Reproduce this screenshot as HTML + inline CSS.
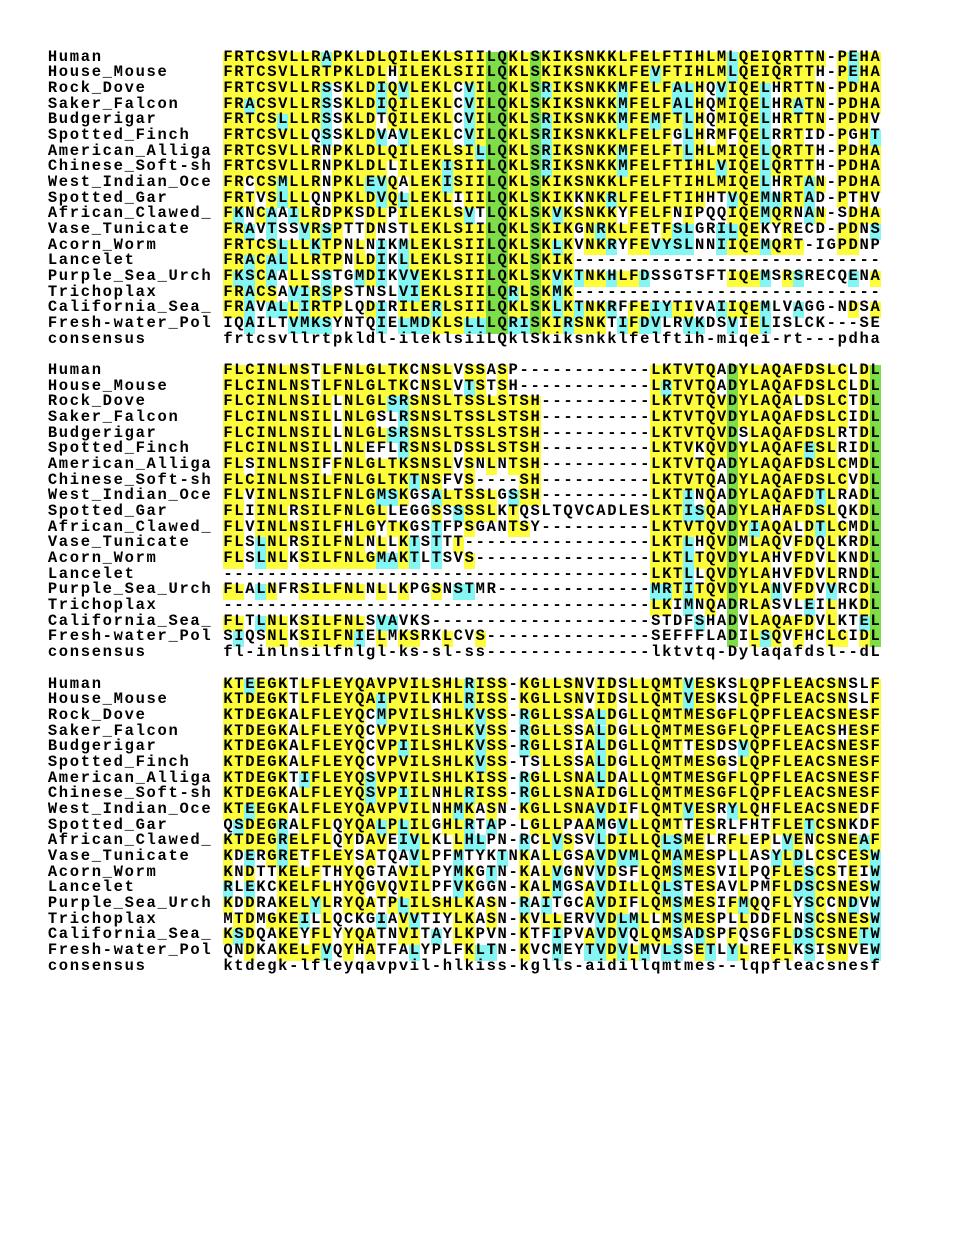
<!DOCTYPE html>
<html><head><meta charset="utf-8">
<style>
html,body{margin:0;padding:0;background:#fff;width:960px;height:1242px;overflow:hidden}
#c{position:relative;width:960px;height:1242px}
.r{position:absolute;left:47px;height:15.67px;white-space:pre;font-family:"Liberation Mono","DejaVu Sans Mono",monospace;font-weight:bold;font-size:15.5px;color:#000}
.r span{display:inline-block;width:10.98px;height:15.67px;line-height:11.6px;text-align:center;vertical-align:top;overflow:visible}
</style></head><body><div id="c"></div>
<script>
var names=["Human","House_Mouse","Rock_Dove","Saker_Falcon","Budgerigar","Spotted_Finch","American_Alliga","Chinese_Soft-sh","West_Indian_Oce","Spotted_Gar","African_Clawed_","Vase_Tunicate","Acorn_Worm","Lancelet","Purple_Sea_Urch","Trichoplax","California_Sea_","Fresh-water_Pol","consensus"];
var blocks=[
["FRTCSVLLRAPKLDLQILEKLSIILQKLSKIKSNKKLFELFTIHLMLQEIQRTTN-PEHA",
"FRTCSVLLRTPKLDLHILEKLSIILQKLSKIKSNKKLFEVFTIHLMLQEIQRTTH-PEHA",
"FRTCSVLLRSSKLDIQVLEKLCVILQKLSRIKSNKKMFELFALHQVIQELHRTTN-PDHA",
"FRACSVLLRSSKLDIQILEKLCVILQKLSKIKSNKKMFELFALHQMIQELHRATN-PDHA",
"FRTCSLLLRSSKLDTQILEKLCVILQKLSRIKSNKKMFEMFTLHQMIQELHRTTN-PDHV",
"FRTCSVLLQSSKLDVAVLEKLCVILQKLSRIKSNKKLFELFGLHRMFQELRRTID-PGHT",
"FRTCSVLLRNPKLDLQILEKLSILLQKLSRIKSNKKMFELFTLHLMIQELQRTTH-PDHA",
"FRTCSVLLRNPKLDLLILEKISIILQKLSRIKSNKKMFELFTIHLVIQELQRTTH-PDHA",
"FRCCSMLLRNPKLEVQALEKISIILQKLSKIKSNKKLFELFTIHLMIQELHRTAN-PDHA",
"FRTVSLLLQNPKLDVQLLEKLIIILQKLSKIKKNKRLFELFTIHHTVQEMNRTAD-PTHV",
"FKNCAAILRDPKSDLPILEKLSVTLQKLSKVKSNKKYFELFNIPQQIQEMQRNAN-SDHA",
"FRAVTSSVRSPTTDNSTLEKLSIILQKLSKIKGNRKLFETFSLGRILQEKYRECD-PDNS",
"FRTCSLLLKTPNLNIKMLEKLSIILQKLSKLKVNKRYFEVYSLNNIIQEMQRT-IGPDNP",
"FRACALLLRTPNLDIKLLEKLSIILQKLSKIK----------------------------",
"FKSCAALLSSTGMDIKVVEKLSIILQKLSKVKTNKHLFDSSGTSFTIQEMSRSRECQENA",
"FRACSAVIRSPSTNSLVIEKLSIILQRLSKMK----------------------------",
"FRAVALLIRTPLQDIRILERLSIILQKLSKLKTNKRFFEIYTIVAIIQEMLVAGG-NDSA",
"IQAILTVMKSYNTQIELMDKLSLLLQRISKIRSNKTIFDVLRVKDSVIELISLCK---SE",
"frtcsvllrtpkldl-ileklsiiLQklSkiksnkklfelftih-miqei-rt---pdha"],
["FLCINLNSTLFNLGLTKCNSLVSSASP------------LKTVTQADYLAQAFDSLCLDL",
"FLCINLNSTLFNLGLTKCNSLVTSTSH------------LRTVTQADYLAQAFDSLCLDL",
"FLCINLNSILLNLGLSRSNSLTSSLSTSH----------LKTVTQVDYLAQALDSLCTDL",
"FLCINLNSILLNLGSLRSNSLTSSLSTSH----------LKTVTQVDYLAQAFDSLCIDL",
"FLCINLNSILLNLGLSRSNSLTSSLSTSH----------LKTVTQVDSLAQAFDSLRTDL",
"FLCINLNSILLNLEFLRSNSLDSSLSTSH----------LKTVKQVDYLAQAFESLRIDL",
"FLSINLNSIFFNLGLTKSNSLVSNLNTSH----------LKTVTQADYLAQAFDSLCMDL",
"FLCINLNSILFNLGLTKTNSFVS----SH----------LKTVTQADYLAQAFDSLCVDL",
"FLVINLNSILFNLGMSKGSALTSSLGSSH----------LKTINQADYLAQAFDTLRADL",
"FLIINLRSILFNLGLLEGGSSSSSLKTQSLTQVCADLESLKTISQADYLAHAFDSLQKDL",
"FLVINLNSILFHLGYTKGSTFPSGANTSY----------LKTVTQVDYIAQALDTLCMDL",
"FLSLNLRSILFNLNLLKTSTTT-----------------LKTLHQVDMLAQVFDQLKRDL",
"FLSLNLKSILFNLGMAKTLTSVS----------------LKTLTQVDYLAHVFDVLKNDL",
"---------------------------------------LKTLLQVDYLAHVFDVLRNDL",
"FLALNFRSILFNLNLLKPGSNSTMR--------------MRTITQVDYLANVFDVVRCDL",
"---------------------------------------LKIMNQADRLASVLEILHKDL",
"FLTLNLKSILFNLSVAVKS--------------------STDFSHADVLAQAFDVLKTEL",
"SIQSNLKSILFNIELMKSRKLCVS---------------SEFFFLADILSQVFHCLCIDL",
"fl-inlnsilfnlgl-ks-sl-ss---------------lktvtq-Dylaqafdsl--dL"],
["KTEEGKTLFLEYQAVPVILSHLRISS-KGLLSNVIDSLLQMTVESKSLQPFLEACSNSLF",
"KTDEGKTLFLEYQAIPVILKHLRISS-KGLLSNVIDSLLQMTVESKSLQPFLEACSNSLF",
"KTDEGKALFLEYQCMPVILSHLKVSS-RGLLSSALDGLLQMTMESGFLQPFLEACSNESF",
"KTDEGKALFLEYQCVPVILSHLKVSS-RGLLSSALDGLLQMTMESGFLQPFLEACSHESF",
"KTDEGKALFLEYQCVPIILSHLKVSS-RGLLSIALDGLLQMTTESDSVQPFLEACSNESF",
"KTDEGKALFLEYQCVPVILSHLKVSS-TSLLSSALDGLLQMTMESGSLQPFLEACSNESF",
"KTDEGKTIFLEYQSVPVILSHLKISS-RGLLSNALDALLQMTMESGFLQPFLEACSNESF",
"KTDEGKALFLEYQSVPIILNHLRISS-RGLLSNAIDGLLQMTMESGFLQPFLEACSNESF",
"KTEEGKALFLEYQAVPVILNHMKASN-KGLLSNAVDIFLQMTVESRYLQHFLEACSNEDF",
"QSDEGRALFLQYQALPLILGHLRTAP-LGLLPAAMGVLLQMTTESRLFHTFLETCSNKDF",
"KTDEGRELFLQYDAVEIVLKLLHLPN-RCLVSSVLDILLQLSMELRFLEPLVENCSNEAF",
"KDERGRETFLEYSATQAVLPFMTYKTNKALLGSAVDVMLQMAMESPLLASYLDLCSCESW",
"KNDTTKELFTHYQGTAVILPYMKGTN-KALVGNVVDSFLQMSMESVILPQFLESCSTEIW",
"RLEKCKELFLHYQGVQVILPFVKGGN-KALMGSAVDILLQLSTESAVLPMFLDSCSNESW",
"KDDRAKELYLRYQATPLILSHLKASN-RAITGCAVDIFLQMSMESIFMQQFLYSCCNDVW",
"MTDMGKEILLQCKGIAVVTIYLKASN-KVLLERVVDLMLLMSMESPLLDDFLNSCSNESW",
"KSDQAKEYFLYYQATNVITAYLKPVN-KTFIPVAVDVQLQMSADSPFQSGFLDSCSNETW",
"QNDKAKELFVQYHATFALYPLFKLTN-KVCMEYTVDVLMVLSSETLYLREFLKSISNVEW",
"ktdegk-lfleyqavpvil-hlkiss-kglls-aidillqmtmes--lqpfleacsnesf"]];
var groups=["ILMV","FYW","KRH","DE","NQ","STA"];
function grp(c){for(var i=0;i<groups.length;i++)if(groups[i].indexOf(c)>=0)return i;return -1;}
var Y="#fdfd3c",C="#84f6f4",G="#7ede48";
var c=document.getElementById("c");
for(var b=0;b<3;b++){
 var rows=blocks[b],cons=rows[18];
 var ref=[],up=[];
 for(var j=0;j<60;j++){
  var cc=cons[j];
  if(cc!=="-"){ref[j]=cc.toUpperCase();up[j]=(cc!==cc.toLowerCase()&&cc===cc.toUpperCase());}
  else{var cnt={},best="",bn=0;for(var r=0;r<18;r++){var ch=rows[r][j];if(ch==="-")continue;cnt[ch]=(cnt[ch]||0)+1;if(cnt[ch]>bn){bn=cnt[ch];best=ch;}}
   ref[j]=bn>=5?best:"";up[j]=false;}
 }
 for(var r=0;r<19;r++){
  var d=document.createElement("div");d.className="r";
  d.style.top=(51.7+(b*20+r)*15.67)+"px";
  var nm=names[r];while(nm.length<16)nm+=" ";
  var h="";
  for(var k=0;k<16;k++)h+="<span>"+nm[k]+"</span>";
  var s=rows[r];
  for(var j=0;j<60;j++){
   var ch=s[j],bg="";
   if(r<18&&ch!=="-"&&ref[j]){
    if(ch===ref[j])bg=up[j]?G:Y;
    else{var g1=grp(ch),g2=grp(ref[j]);if(g1>=0&&g1===g2)bg=C;}
   }
   h+="<span"+(bg?' style="background:'+bg+'"':"")+">"+ch+"</span>";
  }
  d.innerHTML=h;c.appendChild(d);
 }
}
</script>
</body></html>
